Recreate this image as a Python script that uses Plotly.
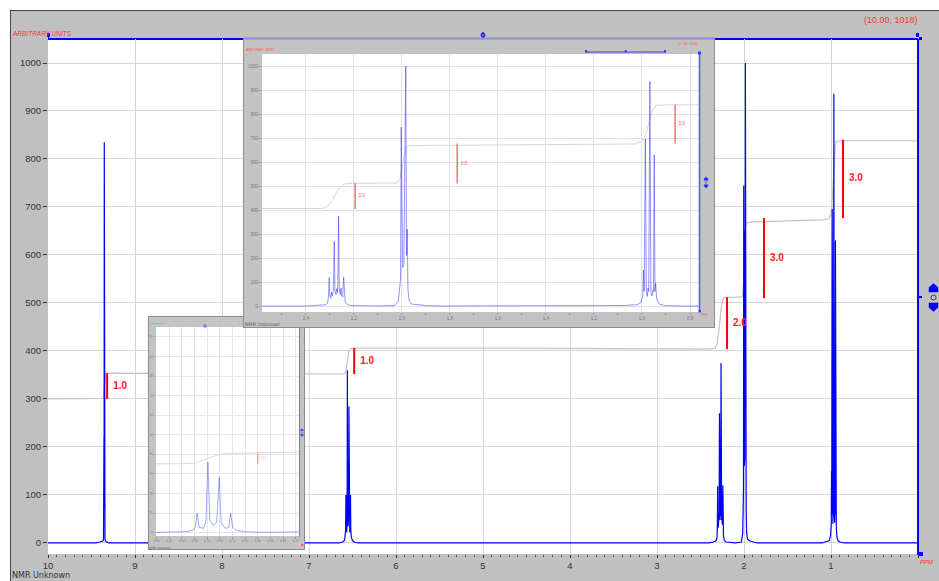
import plotly.graph_objects as go

W, H = 939, 581

# ---------------- data ----------------
spec_ppm = [10.00, 9.45, 9.40, 9.37, 9.362, 9.3565, 9.3555, 9.353, 9.350, 9.345, 9.335, 9.30,
            6.65, 6.61, 6.59, 6.582, 6.579, 6.576, 6.573, 6.566, 6.562, 6.559, 6.556, 6.550,
            6.545, 6.541, 6.538, 6.531, 6.526, 6.523, 6.520, 6.514, 6.50, 6.48, 6.44,
            2.40, 2.35, 2.32, 2.31, 2.306, 2.303, 2.300, 2.296, 2.293, 2.290, 2.286, 2.282,
            2.279, 2.275, 2.272, 2.269, 2.267, 2.264, 2.261, 2.257, 2.254, 2.251, 2.247,
            2.243, 2.240, 2.236, 2.225, 2.21, 2.10,
            2.03, 2.015, 2.010, 2.006, 2.003, 2.000, 1.997, 1.992, 1.988, 1.986, 1.984,
            1.981, 1.978, 1.975, 1.970, 1.960, 1.93, 1.90, 1.85,
            1.10, 1.07, 1.05, 1.02, 1.005, 0.997, 0.994, 0.991, 0.986, 0.982, 0.978, 0.975,
            0.972, 0.967, 0.963, 0.958, 0.955, 0.952, 0.949, 0.946, 0.943, 0.939, 0.93,
            0.92, 0.90, 0.85, 0.00]
spec_int = [0, 0, 2, 4, 8, 220, 70, 835, 40, 8, 3, 0,
            0, 2, 6, 15, 28, 100, 28, 22, 60, 360, 65, 35,
            55, 285, 50, 22, 28, 100, 28, 12, 5, 2, 0,
            0, 2, 5, 12, 40, 118, 38, 32, 58, 42, 62, 270,
            62, 48, 72, 56, 95, 375, 72, 48, 75, 42, 38,
            120, 38, 14, 5, 2, 0,
            2, 20, 60, 110, 745, 170, 160, 175, 650, 560, 1000,
            210, 320, 70, 22, 8, 4, 2, 0,
            0, 2, 4, 5, 15, 40, 150, 60, 696, 60, 40, 75,
            60, 936, 60, 42, 66, 60, 630, 60, 95, 30, 10,
            5, 2, 0, 0]

integral_ppm = [10.00, 9.40, 9.37, 9.36, 9.356, 9.353, 9.350, 9.34, 9.30, 8.00, 7.00, 6.60,
                6.579, 6.56, 6.54, 6.52, 6.50, 5.00, 3.00, 2.40, 2.33, 2.31, 2.29, 2.275,
                2.26, 2.245, 2.23, 2.10, 2.02, 2.008, 2.000, 1.99, 1.982, 1.975, 1.90, 1.50,
                1.10, 1.03, 1.00, 0.99, 0.98, 0.97, 0.96, 0.95, 0.94, 0.90, 0.00]
integral_val = [300, 300, 301, 305, 318, 335, 348, 353, 354, 353, 352, 352,
                355, 379, 401, 405, 406, 406, 405, 404, 406, 415, 440, 470,
                492, 506, 511, 512, 513, 530, 580, 630, 660, 667, 669, 671,
                673, 675, 685, 700, 730, 770, 805, 828, 836, 838, 838]

bar_ppm = [9.32, 6.48, 2.195, 1.77, 0.862]
bar_lo = [300, 352, 404, 510, 677]
bar_hi = [354, 406, 512, 677, 840]
bar_label = ["1.0", "1.0", "2.0", "3.0", "3.0"]

main_xticks = [10, 9, 8, 7, 6, 5, 4, 3, 2, 1, 0]
main_xticktext = ["10", "9", "8", "7", "6", "5", "4", "3", "2", "1", ""]
main_yticks = [0, 100, 200, 300, 400, 500, 600, 700, 800, 900, 1000]
big_xticks = [2.4, 2.2, 2.0, 1.8, 1.6, 1.4, 1.2, 1.0, 0.8]
big_xticktext = ["2.4", "2.2", "2.0", "1.8", "1.6", "1.4", "1.2", "1.0", "0.8"]
small_xticks = [6.64, 6.62, 6.60, 6.58, 6.56, 6.54, 6.52, 6.50, 6.48, 6.46, 6.44, 6.42]
small_yticktext = ["0", "10", "20", "30", "40", "50", "60", "70", "80", "90", "100"]

main_range = [10, 0]
small_range = [6.6411, 6.4148]
big_range = [2.583, 0.7625]

# ---------------- helpers ----------------
FONT = "Liberation Sans"


def dx(x0, x1):
    return [x0 / W, x1 / W]


def dy(top, bottom):
    return [1 - bottom / H, 1 - top / H]


def X(p):
    return p / W


def Y(p):
    return 1 - p / H


fig = go.Figure()


def add_view(xa, ya, xr, spec_style, integ_style, bar_style, lab_font, lab_gap):
    hi_r, lo_r = max(xr), min(xr)
    keep = [i for i, p in enumerate(bar_ppm) if lo_r <= p <= hi_r]
    bx, by = [], []
    for i in keep:
        bx += [bar_ppm[i], bar_ppm[i], None]
        by += [bar_lo[i], bar_hi[i], None]
    fig.add_trace(go.Scatter(x=integral_ppm, y=integral_val, xaxis=xa, yaxis=ya, mode="lines",
                             line=integ_style, hoverinfo="skip"))
    fig.add_trace(go.Scatter(x=spec_ppm, y=spec_int, xaxis=xa, yaxis=ya, mode="lines",
                             line=spec_style, hoverinfo="skip"))
    fig.add_trace(go.Scatter(x=bx, y=by, xaxis=xa, yaxis=ya, mode="lines",
                             line=bar_style, hoverinfo="skip"))
    fig.add_trace(go.Scatter(x=[bar_ppm[i] for i in keep],
                             y=[(bar_lo[i] + bar_hi[i]) / 2 for i in keep],
                             xaxis=xa, yaxis=ya, mode="markers+text",
                             text=[bar_label[i] for i in keep], textposition="middle right",
                             marker=dict(size=lab_gap, opacity=0), textfont=lab_font,
                             hoverinfo="skip"))


def add_frame(xa, ya, fill, edge):
    fig.add_trace(go.Scatter(x=[0, 1, 1, 0, 0], y=[0, 0, 1, 1, 0], xaxis=xa, yaxis=ya,
                             mode="lines", fill="toself", fillcolor=fill,
                             line=dict(color=edge, width=2), hoverinfo="skip"))


# main view
add_view("x", "y", main_range, dict(color="#0000ff", width=1.2), dict(color="#c4c4c4", width=1.2),
         dict(color="#ff0000", width=2),
         dict(family=FONT, size=10, color="#ff2020", weight="bold"), 8)
# small inset (frame + data)
add_frame("x2", "y2", "#c3c3c3", "#8c8c8c")
add_view("x3", "y3", small_range, dict(color="rgba(60,60,255,0.45)", width=1),
         dict(color="#dadada", width=1), dict(color="#ff8080", width=1),
         dict(family=FONT, size=3, color="#ff8080"), 3)
# big inset (frame + data)
add_frame("x4", "y4", "#c3c3c3", "#8c8c8c")
add_view("x5", "y5", big_range, dict(color="rgba(40,40,255,0.5)", width=1),
         dict(color="#d6d6d6", width=1), dict(color="#ff4d4d", width=1.2),
         dict(family=FONT, size=4.5, color="#ff5050"), 4)

tick_font = dict(family=FONT, size=9.5, color="#333333")
frame_axis = dict(range=[0, 1], visible=False, fixedrange=True)

layout = dict(
    width=W, height=H, margin=dict(l=0, r=0, t=0, b=0, pad=0, autoexpand=False),
    paper_bgcolor="#c0c0c0", plot_bgcolor="#ffffff", showlegend=False, hovermode=False,
    xaxis=dict(domain=dx(48, 918), range=main_range, anchor="y", tickmode="array",
               tickvals=main_xticks, ticktext=main_xticktext,
               ticks="outside", ticklen=3, tickcolor="#333333", tickfont=tick_font,
               showgrid=True, gridcolor="#d6d6d6", zeroline=False, showline=False,
               minor=dict(tickmode="linear", tick0=0, dtick=0.1, ticks="outside", ticklen=2,
                          tickcolor="#555555", showgrid=False), fixedrange=True),
    yaxis=dict(domain=dy(39, 554), range=[-23, 1050], anchor="x", tickmode="array",
               tickvals=main_yticks, ticks="outside", ticklen=4, tickcolor="#333333",
               tickfont=tick_font, showgrid=True, gridcolor="#d6d6d6", zeroline=False,
               showline=False, fixedrange=True),
    xaxis2=dict(domain=dx(148, 305), anchor="y2", **frame_axis),
    yaxis2=dict(domain=dy(316, 550), anchor="x2", **frame_axis),
    xaxis3=dict(domain=dx(156, 299), range=small_range, anchor="y3", tickmode="array",
                tickvals=small_xticks, ticktext=["%.2f" % v for v in small_xticks],
                ticks="outside", ticklen=1.5, tickcolor="#999999",
                tickfont=dict(family=FONT, size=3, color="#808080"),
                showgrid=True, gridcolor="#e6e6e6", zeroline=False, showline=False, fixedrange=True),
    yaxis3=dict(domain=dy(327, 536), range=[-17, 1051], anchor="x3", tickmode="array",
                tickvals=main_yticks, ticktext=small_yticktext, ticks="outside", ticklen=1.5,
                tickcolor="#999999", tickfont=dict(family=FONT, size=3, color="#808080"),
                showgrid=True, gridcolor="#e6e6e6", zeroline=False, showline=False, fixedrange=True),
    xaxis4=dict(domain=dx(243, 715), anchor="y4", **frame_axis),
    yaxis4=dict(domain=dy(38, 328), anchor="x4", **frame_axis),
    xaxis5=dict(domain=dx(262, 699), range=big_range, anchor="y5", tickmode="array",
                tickvals=big_xticks, ticktext=big_xticktext, ticks="outside", ticklen=2,
                tickcolor="#999999", tickfont=dict(family=FONT, size=4.5, color="#777777"),
                showgrid=True, gridcolor="#e2e2e2", zeroline=False, showline=False,
                minor=dict(tickmode="linear", tick0=0, dtick=0.1, ticks="outside", ticklen=1.5,
                           tickcolor="#999999", showgrid=False), fixedrange=True),
    yaxis5=dict(domain=dy(54, 312), range=[-25, 1050], anchor="x5", tickmode="array",
                tickvals=main_yticks, ticks="outside", ticklen=2, tickcolor="#999999",
                tickfont=dict(family=FONT, size=4.5, color="#777777"),
                showgrid=True, gridcolor="#e2e2e2", zeroline=False, showline=False, fixedrange=True),
)

shapes = []


def rect(x0, y0, x1, y1, fill, layer="above", line=None):
    shapes.append(dict(type="rect", xref="paper", yref="paper", x0=X(x0), x1=X(x1),
                       y0=Y(y1), y1=Y(y0), fillcolor=fill, layer=layer,
                       line=line or dict(width=0)))


def seg(x0, y0, x1, y1, color, width, layer="above"):
    shapes.append(dict(type="line", xref="paper", yref="paper", x0=X(x0), x1=X(x1),
                       y0=Y(y0), y1=Y(y1), layer=layer, line=dict(color=color, width=width)))


def circ(cx, cy, r, color, width=1, fill=None):
    shapes.append(dict(type="circle", xref="paper", yref="paper", x0=X(cx - r), x1=X(cx + r),
                       y0=Y(cy + r), y1=Y(cy - r), layer="above",
                       line=dict(color=color, width=width), fillcolor=fill))


def poly(pts, color):
    path = "M " + " L ".join("%.5f,%.5f" % (X(a), Y(b)) for a, b in pts) + " Z"
    shapes.append(dict(type="path", xref="paper", yref="paper", path=path, layer="above",
                       fillcolor=color, line=dict(color=color, width=0.5)))


def icons(cx, cy, s, color, ring):
    # up arrow, ring, down arrow cluster
    poly([(cx - s, cy - 1.2 * s), (cx - s, cy - 2.2 * s), (cx, cy - 3.1 * s),
          (cx + s, cy - 2.2 * s), (cx + s, cy - 1.2 * s)], color)
    circ(cx, cy, 0.55 * s, ring, width=max(0.5, s * 0.2))
    poly([(cx - s, cy + 1.2 * s), (cx + s, cy + 1.2 * s), (cx + s, cy + 2.2 * s),
          (cx, cy + 3.1 * s), (cx - s, cy + 2.2 * s)], color)


# outer page frame
rect(0, 0, W, 10, "#ffffff", layer="below")
rect(0, 0, 10, H, "#ffffff", layer="below")
seg(10, 10.5, W, 10.5, "#444444", 1)
seg(10.5, 10, 10.5, H, "#444444", 1)
# main view decorations
seg(48, 39, 918, 39, "#0000ff", 2, layer="below")
seg(918, 39, 918, 555, "#0000ff", 2)
rect(47, 33, 50, 37, "#0000ff")
seg(48.5, 36, 48.5, 39, "#0000ff", 1)
rect(916, 33, 919, 37, "#0000ff")
rect(919, 37, 922, 40, "#0000ff")
rect(919, 552, 923, 556, "#0000ff")
circ(483, 35, 2, "#0000ff", 1)
seg(483, 32, 483, 38, "#0000ff", 1)
rect(919, 296, 922, 298, "#0000ff")
icons(933.5, 297.5, 4.5, "#0000ff", "#333333")
# big inset decorations
seg(243, 38.5, 715, 38.5, "#8c8cd8", 2)
seg(586, 52, 665, 52, "#3a3aff", 1.2)
for bxx in (586, 625.7, 665):
    rect(bxx - 1, 50, bxx + 1, 52.5, "#3a3aff")
seg(699.5, 53, 699.5, 311, "#5c5cff", 1.6)
rect(698, 51.5, 701, 54.5, "#3a3aff")
rect(698.5, 310, 701, 312.5, "#3a3aff")
icons(706, 182.5, 1.8, "#2a2aff", "#555555")
# small inset decorations
seg(299.5, 328, 299.5, 537, "#7070ff", 1)
circ(205, 326, 1.3, "#5050ff", 0.8)
icons(302, 432.5, 1.3, "#4a4aff", "#666666")
rect(301, 544, 303.5, 546, "#ff6060")
layout["shapes"] = shapes

ann = []


def text(x, y, s, size, color, xanchor="left", yanchor="middle", italic=False, family=FONT):
    ann.append(dict(x=X(x), y=Y(y), xref="paper", yref="paper", text=s, showarrow=False,
                    xanchor=xanchor, yanchor=yanchor, borderpad=0,
                    font=dict(family=family, size=size, color=color,
                              style="italic" if italic else "normal")))


text(11, 33, "ARBITRARY UNITS", 6.5, "#ff3030", italic=True)
text(919, 20, "(10.00, 1018)", 9, "#ff3333", xanchor="right")
text(919, 562, "PPM", 6, "#ff3030", italic=True)
text(11, 581, "NMR Unknown", 8, "#333333", yanchor="bottom", family="DejaVu Sans")
text(244, 50.5, "ARBITRARY UNITS", 3.2, "#ff5050", italic=True)
text(699, 44, "(2.58, 998)", 4, "#ff6060", xanchor="right")
text(244, 324, "NMR Unknown", 4.8, "#555555", family="DejaVu Sans")
text(700, 315, "PPM", 3, "#ff5050", italic=True)
text(148, 323, "ARBITRARY", 2.5, "#ff5050", italic=True)
text(148, 548, "NMR Unknown", 3, "#555555", family="DejaVu Sans")
layout["annotations"] = ann

fig.update_layout(**layout)
fig.write_html("out.html", config={"displayModeBar": False},
               post_script="document.body.style.margin='0px';document.body.style.overflow='hidden';")
